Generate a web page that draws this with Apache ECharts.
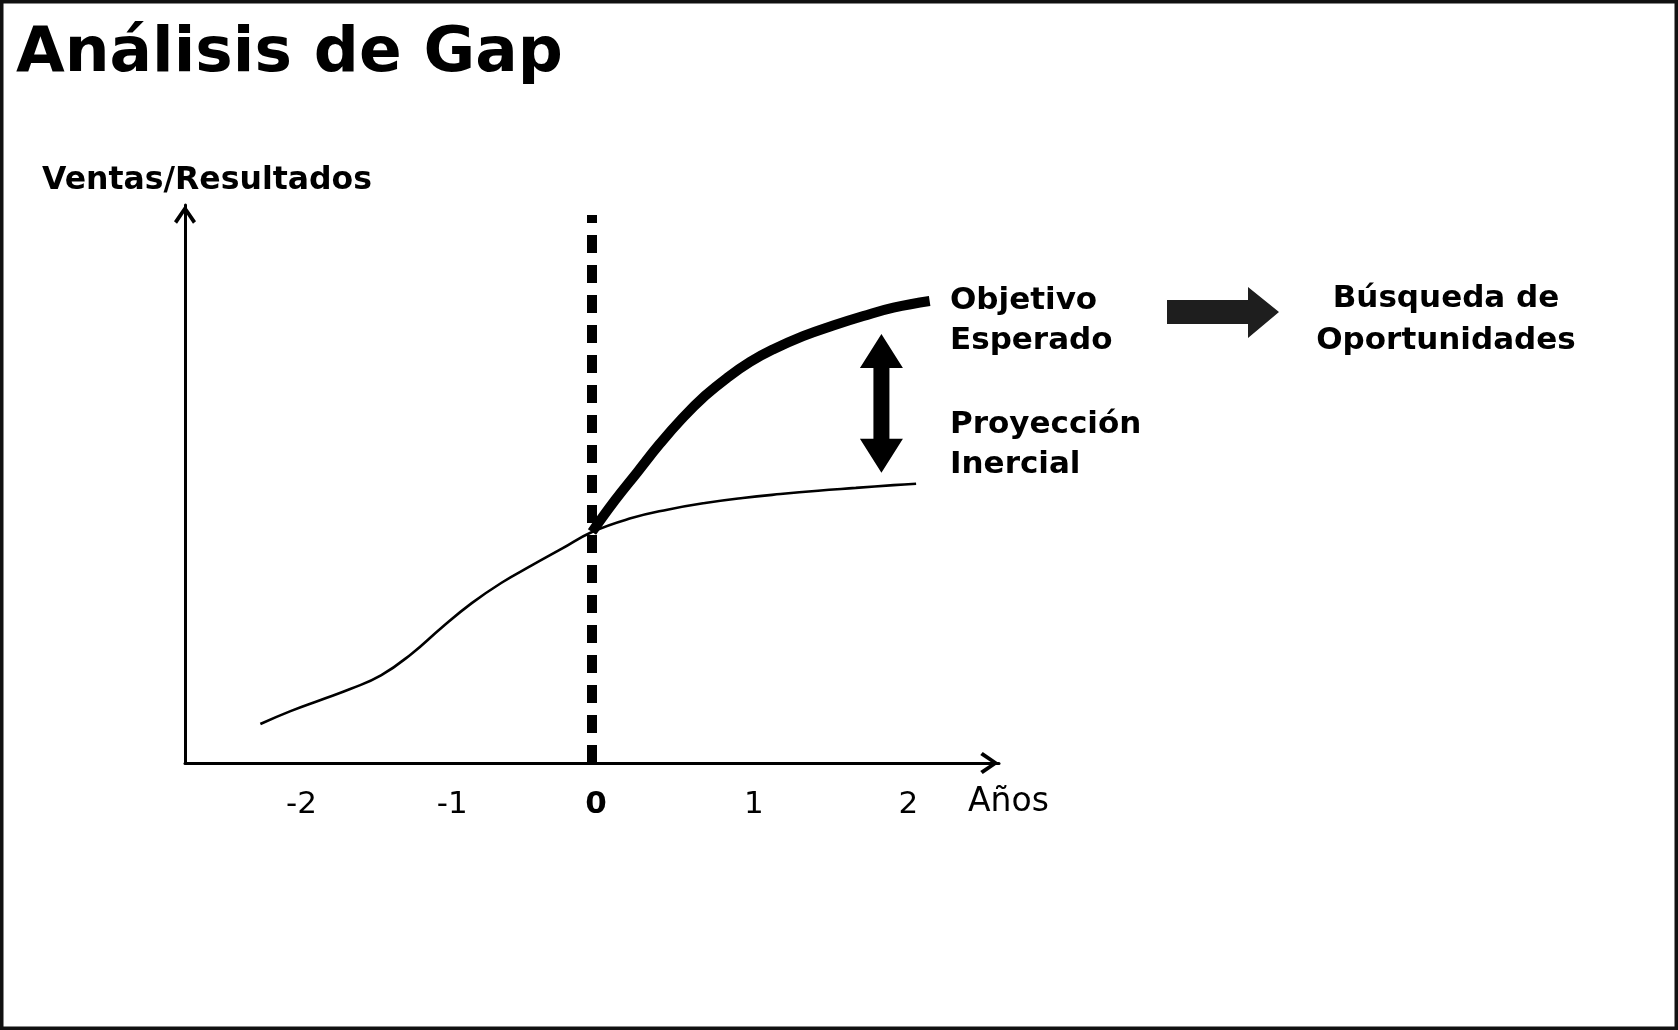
<!DOCTYPE html>
<html>
<head>
<meta charset="utf-8">
<script src="https://cdn.jsdelivr.net/npm/echarts@6/dist/echarts.min.js"></script>
<style>html,body{margin:0;padding:0;background:#fff}#c{width:1678px;height:1030px}</style>
</head>
<body>
<div id="c"></div>
<script>
// ---- data ----
const xTickValues = [-2, -1, 0, 1, 2];
const inertialX = [-2.2, -2.0, -1.8, -1.6, -1.4, -1.2, -1.0, -0.8, -0.6, -0.4, -0.2, 0, 0.25, 0.5, 0.75, 1.0, 1.25, 1.5, 1.75, 2.0, 2.15];
const inertialY = [7.0, 9.3, 11.3, 13.3, 15.7, 19.5, 24.2, 28.6, 32.3, 35.4, 38.4, 41.4, 43.8, 45.4, 46.6, 47.5, 48.2, 48.8, 49.3, 49.8, 50.05];
const targetX = [0, 0.15, 0.3, 0.45, 0.6, 0.75, 0.9, 1.05, 1.2, 1.4, 1.6, 1.8, 2.0, 2.24];
const targetY = [41.4, 47.0, 52.1, 57.2, 61.8, 65.8, 69.1, 71.9, 74.1, 76.5, 78.4, 80.1, 81.6, 82.8];
const todayX = 0;
const todayLineY = [0, 98.2];
const gapArrow = [[1.92, 52.0, 76.9]]; // x, lower tip, upper tip
const xRange = [-2.7, 2.7];
const yRange = [0, 100];

const FONT = "'DejaVu Sans', Verdana, sans-serif";
const chevron = 'path://M11,0 L22,16 L19,18.5 L11,6.5 L3,18.5 L0,16 Z';

const chart = echarts.init(document.getElementById('c'), null, {renderer: 'canvas'});
chart.setOption({
  animation: false,
  backgroundColor: '#fff',
  title: {
    text: 'Análisis de Gap', left: 11, top: 18,
    textStyle: {fontSize: 63, fontWeight: 'bold', fontFamily: FONT, color: '#000'}
  },
  grid: {left: 185, right: 679, top: 205, bottom: 267, containLabel: false, outerBoundsMode: 'none'},
  xAxis: {
    type: 'value', min: xRange[0], max: xRange[1],
    splitLine: {show: false}, axisTick: {show: false},
    axisLine: {show: true, onZero: false, lineStyle: {color: '#000', width: 3},
      symbol: ['none', chevron], symbolSize: [22, 19], symbolOffset: [0, -9.5]},
    axisLabel: {
      customValues: xTickValues, margin: 26, color: '#000', fontFamily: FONT, fontSize: 31,
      formatter: v => v === 0 ? '{z|0}' : (v === 2 ? '{w|2}' : '{n|' + v + '}'),
      rich: {
        n: {fontSize: 31, fontFamily: FONT, color: '#000', padding: [0, 0, 0, 22]},
        w: {fontSize: 31, fontFamily: FONT, color: '#000', padding: [0, 0, 0, 30]},
        z: {fontSize: 31, fontFamily: FONT, color: '#000', fontWeight: 'bold', padding: [0, 0, 0, 8]}
      }
    }
  },
  yAxis: {
    type: 'value', min: yRange[0], max: yRange[1],
    splitLine: {show: false}, axisTick: {show: false}, axisLabel: {show: false},
    axisLine: {show: true, onZero: false, lineStyle: {color: '#000', width: 3},
      symbol: ['none', chevron], symbolSize: [22, 19], symbolOffset: [0, -9.5]},
    name: 'Ventas/Resultados', nameLocation: 'end', nameGap: 8,
    nameTextStyle: {fontSize: 31.5, fontWeight: 'bold', fontFamily: FONT, color: '#000', align: 'center', padding: [0, 0, 0, 44]}
  },
  series: [
    {
      name: 'Proyección Inercial', type: 'line', smooth: 0.45, silent: true,
      showSymbol: false, symbol: 'none',
      lineStyle: {color: '#000', width: 2.6},
      data: inertialX.map((x, i) => [x, inertialY[i]]),
      z: 3
    },
    {
      name: 'Objetivo Esperado', type: 'line', smooth: 0.45, silent: true,
      showSymbol: false, symbol: 'none',
      lineStyle: {color: '#000', width: 10},
      data: targetX.map((x, i) => [x, targetY[i]]),
      z: 4
    },
    {
      name: 'Hoy', type: 'line', silent: true, showSymbol: false, symbol: 'none',
      lineStyle: {color: '#000', width: 10, type: [18, 12], cap: 'butt'},
      data: todayLineY.map(y => [todayX, y]),
      z: 5
    },
    {
      name: 'Gap', type: 'custom', silent: true, z: 6,
      data: gapArrow,
      renderItem: function (params, api) {
        const top = api.coord([api.value(0), api.value(2)]);
        const bot = api.coord([api.value(0), api.value(1)]);
        const x = top[0], hw = 21.5, hl = 34, sw = 8;
        return {
          type: 'polygon',
          shape: {points: [
            [x, top[1]], [x + hw, top[1] + hl], [x + sw, top[1] + hl],
            [x + sw, bot[1] - hl], [x + hw, bot[1] - hl], [x, bot[1]],
            [x - hw, bot[1] - hl], [x - sw, bot[1] - hl], [x - sw, top[1] + hl],
            [x - hw, top[1] + hl]
          ]},
          style: {fill: '#000'}
        };
      }
    }
  ],
  graphic: [
    {type: 'rect', silent: true, z: 100,
      shape: {x: 1.75, y: 1.75, width: 1674.5, height: 1026.5},
      style: {fill: 'none', stroke: '#111', lineWidth: 3.5}},
    {type: 'polygon', silent: true,
      shape: {points: [[1167, 300], [1248, 300], [1248, 287], [1279, 312], [1248, 338], [1248, 324], [1167, 324]]},
      style: {fill: '#1e1e1e'}},
    {type: 'text', silent: true, x: 968, y: 802,
      style: {text: 'Años', font: '33px ' + FONT, fill: '#000', verticalAlign: 'middle', align: 'left'}},
    {type: 'text', silent: true, x: 950, y: 321,
      style: {text: 'Objetivo\nEsperado', font: 'bold 31px ' + FONT, fill: '#000', lineHeight: 40, verticalAlign: 'middle', align: 'left'}},
    {type: 'text', silent: true, x: 950, y: 445,
      style: {text: 'Proyección\nInercial', font: 'bold 31px ' + FONT, fill: '#000', lineHeight: 40, verticalAlign: 'middle', align: 'left'}},
    {type: 'text', silent: true, x: 1446, y: 320,
      style: {text: 'Búsqueda de\nOportunidades', font: 'bold 31px ' + FONT, fill: '#000', lineHeight: 42, verticalAlign: 'middle', align: 'center'}}
  ]
});
</script>
</body>
</html>
